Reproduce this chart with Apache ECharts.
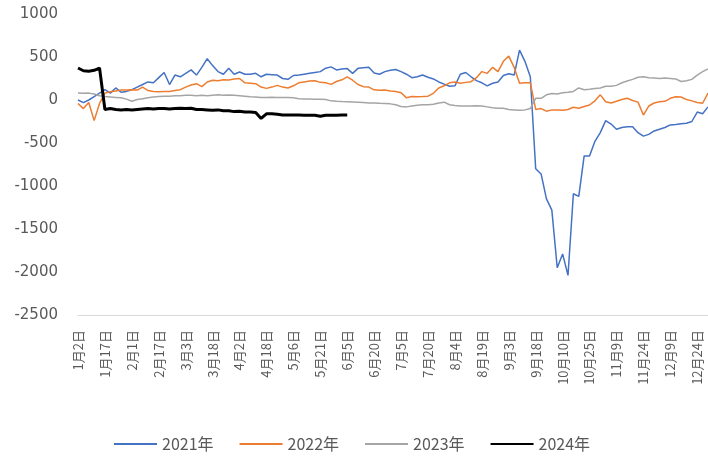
<!DOCTYPE html>
<html>
<head>
<meta charset="utf-8">
<script src="https://cdn.jsdelivr.net/npm/echarts@6/dist/echarts.min.js"></script>
<style>
  html, body { margin: 0; padding: 0; background: #fff; }
  #chart { width: 708px; height: 457px; }
</style>
</head>
<body>
<div id="chart"></div>
<script>
// 日期（去掉节假日），每3天取一个点
const monthDays = [31, 29, 31, 30, 31, 30, 31, 31, 30, 31, 30, 30]
const skipDays = ['1月1日', '2月10日', '4月4日', '5月1日', '5月2日', '5月3日',
  '10月1日', '10月2日', '10月3日', '10月4日', '10月5日', '10月6日', '10月7日']
const categories = []
monthDays.forEach((n, m) => {
  for (let d = 1; d <= n; d++) {
    const s = (m + 1) + '月' + d + '日'
    if (skipDays.indexOf(s) < 0) categories.push(s)
  }
})
const step = 3

const y2021 = [0, -30, 0, 40, 80, 120, 80, 140, 90, 100, 120, 150, 180, 210, 200, 260, 320, 180, 290, 270,
  310, 350, 290, 380, 480, 400, 330, 300, 368, 300, 325, 300, 300, 310, 270, 300, 295, 290, 250, 240,
  285, 290, 300, 310, 320, 330, 370, 385, 350, 360, 365, 310, 368, 375, 380, 315, 300, 330, 345, 355,
  330, 300, 260, 270, 290, 265, 245, 210, 185, 160, 165, 300, 320, 270, 225, 200, 165, 195, 210, 285,
  305, 290, 580, 450, 270, -800, -860, -1150, -1280, -1950, -1790, -2040, -1090, -1120, -650, -650, -480, -380, -240, -280,
  -340, -320, -310, -310, -380, -420, -400, -360, -340, -320, -290, -285, -275, -270, -250, -140, -160, -80]

const y2022 = [-40, -100, -30, -240, -40, 80, 95, 105, 115, 115, 120, 115, 150, 110, 100, 95, 100, 100, 110, 120,
  150, 175, 190, 155, 210, 230, 225, 235, 233, 245, 250, 200, 195, 190, 150, 135, 150, 170, 150, 140,
  165, 200, 210, 220, 224, 205, 200, 182, 215, 235, 268, 230, 180, 155, 150, 118, 112, 115, 105, 98,
  85, 25, 40, 38, 40, 45, 78, 140, 165, 200, 210, 195, 205, 213, 260, 330, 310, 380, 330, 450,
  510, 380, 195, 200, 200, -110, -100, -130, -115, -115, -118, -110, -85, -95, -75, -58, -10, 60, -20, -35,
  -15, 5, 20, -5, -25, -175, -70, -35, -20, -15, 20, 38, 35, 5, -10, -30, -38, 80]

const y2023 = [80, 78, 80, 70, 50, 40, 35, 30, 25, 10, -15, 5, 15, 25, 35, 40, 45, 45, 50, 50,
  55, 55, 50, 55, 50, 55, 60, 55, 58, 55, 50, 45, 38, 35, 30, 30, 32, 30, 30, 28,
  25, 15, 12, 12, 10, 8, 5, -10, -15, -18, -20, -22, -25, -30, -35, -35, -38, -40, -45, -55,
  -75, -80, -70, -60, -55, -55, -50, -35, -25, -55, -65, -70, -70, -70, -68, -70, -80, -90, -95, -95,
  -110, -115, -120, -115, -100, 20, 20, 60, 75, 70, 85, 90, 100, 140, 120, 125, 135, 140, 160, 160,
  170, 200, 220, 240, 265, 270, 260, 255, 250, 255, 250, 245, 215, 225, 240, 290, 330, 360]

const y2024 = [372, 340, 335, 345, 372, -110, -100, -110, -115, -110, -115, -110, -105, -100, -105, -100, -100, -105, -100, -95,
  -100, -95, -110, -110, -115, -120, -115, -125, -125, -135, -130, -140, -140, -145, -215, -160, -160, -165, -175, -175,
  -175, -175, -178, -178, -178, -190, -178, -178, -178, -175, -175]

const names = ['2021年', '2022年', '2023年', '2024年']
const colors = ['#4472C4', '#ED7D31', '#A5A5A5', '#000000']
const widths = [1.5, 1.5, 1.5, 3]
const allData = [y2021, y2022, y2023, y2024]

const toPairs = (arr) => arr.map((v, k) => [k * step, v])

const chartDom = document.getElementById('chart')
const myChart = echarts.init(chartDom, null, { renderer: 'canvas' })
const labelColor = '#595959'
const option = {
  animation: false,
  color: colors,
  grid: {
    top: 14,
    left: 78,
    right: 0,
    bottom: 142,
  },
  legend: {
    top: 431,
    left: 108,
    itemWidth: 43,
    itemHeight: 14,
    itemGap: 25,
    itemStyle: { opacity: 0 },
    textStyle: { color: labelColor, fontSize: 16, fontFamily: 'Noto Sans CJK SC' },
    data: names,
  },
  xAxis: {
    type: 'category',
    data: categories,
    boundaryGap: false,
    axisLine: { onZero: false, lineStyle: { color: '#D9D9D9', width: 1 } },
    axisTick: { show: false },
    splitLine: { show: false },
    axisLabel: {
      interval: 14,
      rotate: 90,
      margin: 15,
      color: labelColor,
      fontSize: 13,
      fontFamily: 'Noto Sans CJK SC',
    },
  },
  yAxis: {
    type: 'value',
    min: -2500,
    max: 1000,
    interval: 500,
    axisLine: { show: false },
    axisTick: { show: false },
    splitLine: { show: false },
    axisLabel: {
      margin: 20,
      color: labelColor,
      fontSize: 15,
      fontFamily: 'DejaVu Sans',
      formatter: (v) => String(v),
    },
  },
  series: names.map((name, i) => ({
    name: name,
    type: 'line',
    symbol: 'none',
    data: toPairs(allData[i]),
    lineStyle: { width: widths[i], color: colors[i] },
    itemStyle: { color: colors[i] },
  })),
}

option && myChart.setOption(option)
</script>
</body>
</html>
